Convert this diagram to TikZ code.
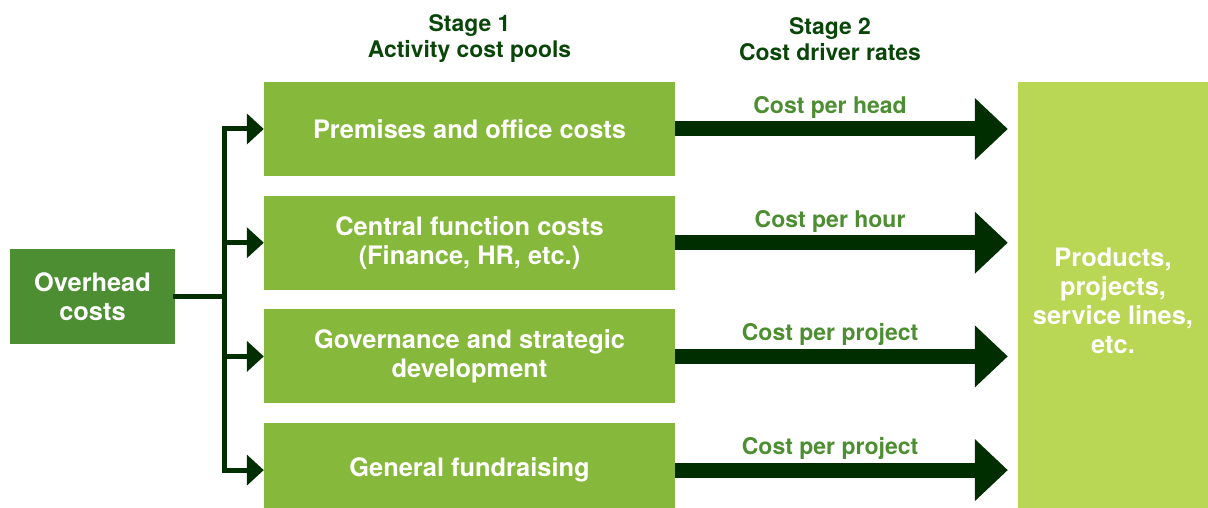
\documentclass[tikz,border=0pt]{standalone}
\usepackage{fontspec}
\setmainfont{TeX Gyre Heros}
\usetikzlibrary{arrows.meta,positioning}
\definecolor{overgreen}{HTML}{4E8E33}
\definecolor{poolgreen}{HTML}{86B83B}
\definecolor{endgreen}{HTML}{B9D654}
\definecolor{arrowgreen}{HTML}{002E00}
\definecolor{stagegreen}{HTML}{0A460A}

\begin{document}
\begin{tikzpicture}[x=1pt, y=-1pt,
		box/.style={fill=#1, text=white, font=\fontsize{25.4}{29}\selectfont\bfseries, align=center, inner sep=0pt},
		pool/.style={box=poolgreen, minimum width=411pt, minimum height=94pt},
		stage/.style={text=stagegreen, font=\fontsize{22.9}{26}\selectfont\bfseries, align=center, inner sep=0pt},
		ratelabel/.style={text=overgreen, font=\fontsize{23}{26}\selectfont\bfseries, inner sep=0pt},
		rate/.style={draw=arrowgreen, line width=15pt, -{Triangle[width=60pt,length=33pt]}},
		branch/.style={draw=arrowgreen, line width=5pt, -{Triangle[width=30pt,length=17pt]}},
		trunk/.style={draw=arrowgreen, line width=5pt, line cap=rect},
		node distance=19.3pt]
	\useasboundingbox (0,0) rectangle (1208,508);

	\node[box=overgreen, minimum width=165pt, minimum height=95pt] (over) at (92.5,296.5) {Overhead\\costs};
	\node[pool] (premises) at (469.5,129) {Premises and office costs};
	\node[pool, below=of premises] (central) {Central function costs\\(Finance, HR, etc.)};
	\node[pool, below=of central] (governance) {Governance and strategic\\development};
	\node[pool, below=of governance] (fundraising) {General fundraising};
	\node[box=endgreen, minimum width=190pt, minimum height=438pt] (products) at (1113,301) {Products,\\projects,\\service lines,\\etc.};

	\node[stage] (stage1) at (469.5,39) {Stage 1\\Activity cost pools};
	\node[stage] (stage2) at (830,39) {Stage 2\\Cost driver rates};

	% stage 1
	\coordinate (fork) at (224,296.5);
	\draw[trunk] (over.east) -- (fork);
	\draw[trunk] (fork |- premises.west) -- (fork |- fundraising.west);
	\foreach \pool in {premises,central,governance,fundraising}
		\draw[branch] (fork |- \pool.west) -- (\pool.west);

	% stage 2
	\foreach \pool/\driver in {premises/Cost per head, central/Cost per hour, governance/Cost per project, fundraising/Cost per project}
		\draw[rate, shorten >=10pt] (\pool.east) -- (\pool.east -| products.west)
			node[ratelabel, pos=.452, above=3pt] {\driver};
\end{tikzpicture}
\end{document}
